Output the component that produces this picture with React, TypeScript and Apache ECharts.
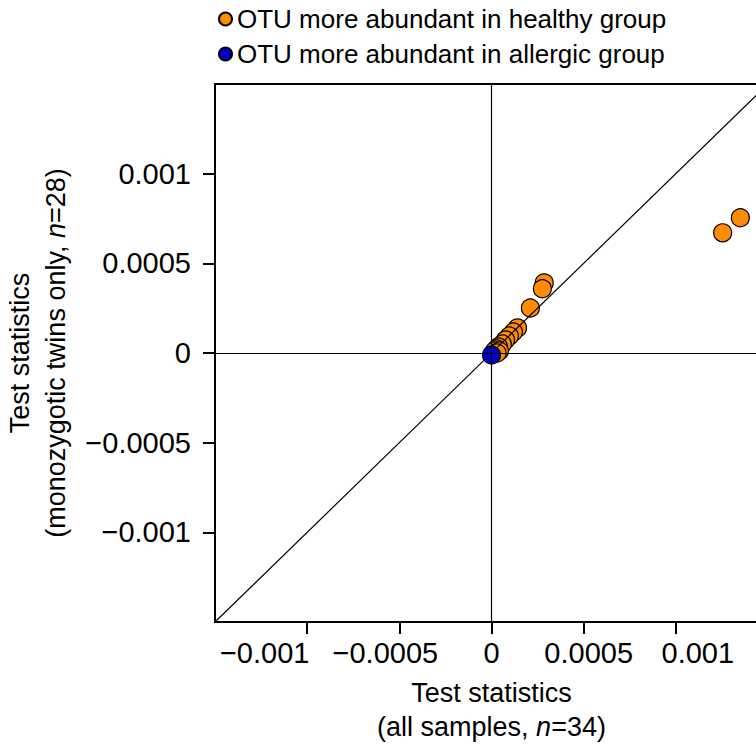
import React, { useEffect, useRef } from "react";
import * as echarts from "echarts";

const healthyX = [0.00135, 0.001254, 0.000286, 0.000276, 0.000211, 0.000141, 0.000119, 0.000097, 0.000076, 0.000059, 0.000038, 0.000027, 0.000016, 0.000043, 0.00003];
const healthyY = [0.000754, 0.00067, 0.000391, 0.000358, 0.000251, 0.00014, 0.000117, 0.000095, 0.000073, 0.00005, 0.000034, 0.000022, 0.000011, 0.000011, 0.0];
const allergicX = [0.0];
const allergicY = [-0.000011];
const axisLimits = [-0.0015, 0.0015];
const tickValues = [-0.001, -0.0005, 0, 0.0005, 0.001];
const legendNames = ["OTU more abundant in healthy group", "OTU more abundant in allergic group"];

const FONT = "Liberation Sans";

const fmt = (v: number) => (v < 0 ? "\u2212" + String(Math.abs(v)) : String(v));
// per-label horizontal offsets of the x tick labels (style only)
const xLabelStyleKey = ["n1", "n2", "z0", "p1", "p2"];

export default function App() {
  const ref = useRef<HTMLDivElement>(null);
  useEffect(() => {
    document.body.style.margin = "0";
    const chart = echarts.init(ref.current!, null, { renderer: "svg" });
    const labelBase = { color: "#000", fontSize: 29, fontFamily: FONT };
    const axisCommon = {
      type: "value" as const,
      min: axisLimits[0],
      max: axisLimits[1],
      interval: 0.0005,
      splitLine: { show: false },
      axisLine: { show: true, onZero: false, lineStyle: { color: "#000", width: 2 } },
      axisTick: { show: true, length: 12, customValues: tickValues, lineStyle: { color: "#000", width: 2 } },
      axisLabel: { customValues: tickValues, formatter: fmt, ...labelBase, hideOverlap: false, showMinLabel: true, showMaxLabel: true },
      nameLocation: "middle" as const,
    };
    chart.setOption({
      animation: false,
      legend: {
        data: legendNames,
        orient: "vertical",
        left: 213,
        top: 1,
        itemGap: 9,
        itemWidth: 13,
        itemHeight: 13,
        icon: "circle",
        textStyle: { fontSize: 26, fontFamily: FONT, color: "#000" },
      },
      grid: { left: 215, top: 84, width: 553, height: 538, show: true, borderColor: "#000", borderWidth: 2, outerBoundsMode: "none", containLabel: false },
      xAxis: {
        ...axisCommon,
        axisLabel: {
          ...axisCommon.axisLabel,
          margin: 16,
          formatter: (v: number) => {
            const idx = tickValues.findIndex((t) => Math.abs(t - v) < 1e-12);
            const key = idx >= 0 ? xLabelStyleKey[idx] : "z0";
            return "{" + key + "|" + fmt(v) + "}";
          },
          rich: {
            n1: { ...labelBase, padding: [0, 85, 0, 0] },
            n2: { ...labelBase, padding: [0, 28, 0, 0] },
            z0: { ...labelBase },
            p1: { ...labelBase, padding: [0, 0, 0, 10] },
            p2: { ...labelBase, padding: [0, 0, 0, 44] },
          },
        },
        name: "Test statistics\n(all samples, {i|n}=34)",
        nameGap: 54,
        nameTextStyle: {
          fontSize: 27, fontFamily: FONT, color: "#000", lineHeight: 34,
          rich: { i: { fontStyle: "italic", fontSize: 27, fontFamily: FONT, color: "#000", lineHeight: 34 } },
        },
      },
      yAxis: {
        ...axisCommon,
        axisLabel: { ...axisCommon.axisLabel, margin: 24 },
        name: "Test statistics\n(monozygotic twins only, {i|n}=28)",
        nameGap: 133,
        nameTextStyle: {
          fontSize: 27, fontFamily: FONT, color: "#000", lineHeight: 36,
          rich: { i: { fontStyle: "italic", fontSize: 27, fontFamily: FONT, color: "#000", lineHeight: 36 } },
        },
      },
      series: [
        {
          type: "line",
          data: [],
          z: 1,
          silent: true,
          markLine: {
            silent: true,
            symbol: ["none", "none"],
            label: { show: false },
            lineStyle: { color: "#000", width: 1.2, type: "solid" },
            data: [{ xAxis: 0 }, { yAxis: 0 }],
          },
        },
        {
          name: legendNames[0],
          type: "scatter",
          z: 2,
          symbolSize: 18,
          itemStyle: { color: "#ff8c00", borderColor: "#000", borderWidth: 1.2, opacity: 1 },
          data: healthyX.map((x, i) => [x, healthyY[i]]),
        },
        {
          type: "line",
          z: 3,
          silent: true,
          symbol: "none",
          lineStyle: { color: "#000", width: 1.2 },
          data: [[axisLimits[0], axisLimits[0]], [axisLimits[1], axisLimits[1]]],
        },
        {
          name: legendNames[1],
          type: "scatter",
          z: 4,
          symbolSize: 18,
          itemStyle: { color: "#0000cd", borderColor: "#000", borderWidth: 1.2, opacity: 1 },
          data: allergicX.map((x, i) => [x, allergicY[i]]),
        },
      ],
    });
    return () => chart.dispose();
  }, []);
  return <div ref={ref} style={{ width: 756, height: 747 }} />;
}
